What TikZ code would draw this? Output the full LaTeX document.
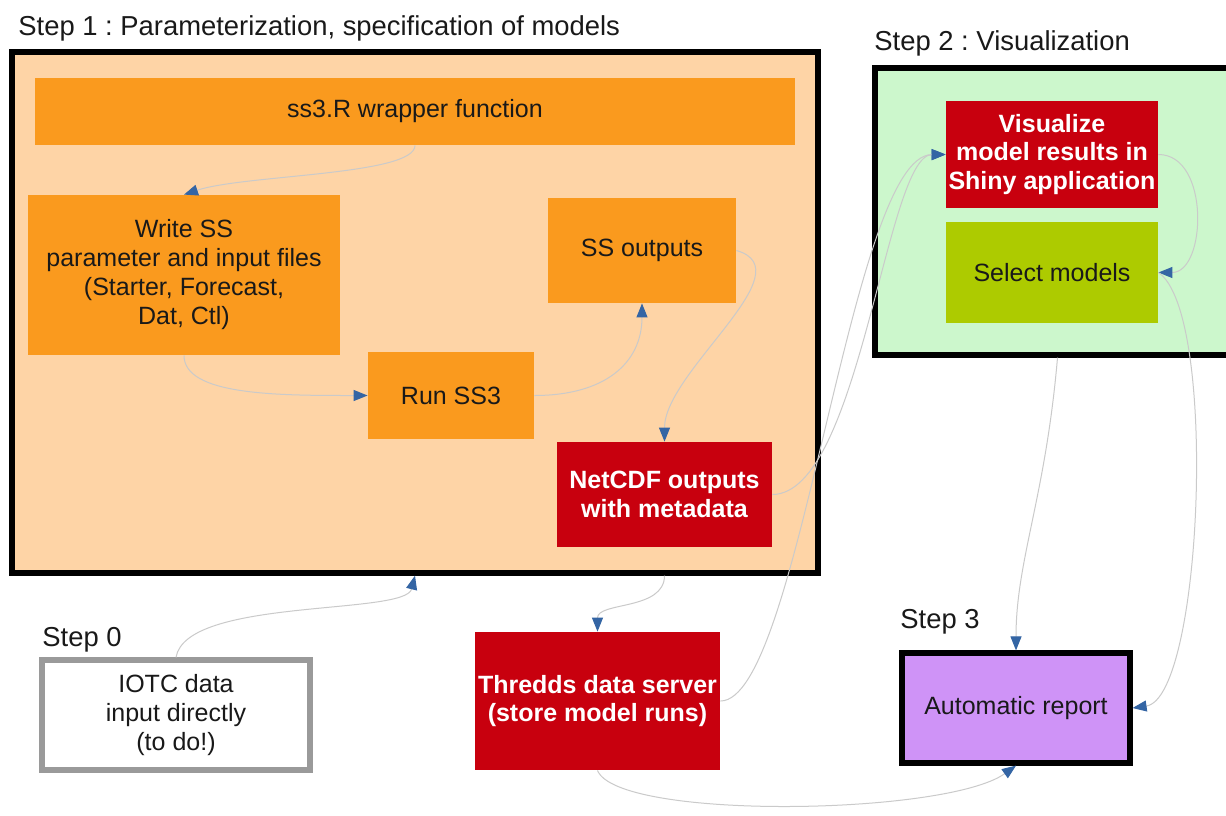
\documentclass[tikz,border=0pt]{standalone}
\usepackage{fontspec}
\setmainfont{Liberation Sans}
\frenchspacing
\usetikzlibrary{arrows.meta,calc}
\definecolor{peach}{HTML}{FED4A6}
\definecolor{orangebox}{HTML}{FA9A1E}
\definecolor{redbox}{HTML}{C8000E}
\definecolor{mint}{HTML}{CCF7CC}
\definecolor{limebox}{HTML}{ADCB00}
\definecolor{lilac}{HTML}{CF93F7}
\definecolor{linkgray}{HTML}{CACACA}
\definecolor{tipblue}{HTML}{3465A4}
\definecolor{inkgray}{HTML}{9A9A9A}
\begin{document}
\begin{tikzpicture}[x=0.5pt,y=-0.5pt,
  boxtext/.style={font=\fontsize{12.5}{14.5}\selectfont, text=black!90, align=center, inner sep=0pt},
  stepframe/.style={draw=black, line width=2.6pt},
  orangenode/.style={boxtext, fill=orangebox},
  rednode/.style={boxtext, fill=redbox, text=white, font=\fontsize{12.5}{14.2}\selectfont\bfseries},
  steplabel/.style={font=\fontsize{13.7}{16}\selectfont, anchor=west, inner sep=0pt, text=black!90},
  conn/.style={draw=linkgray, line width=0.5pt, -{Triangle[length=7pt,width=5.5pt,color=tipblue,fill=tipblue]}}
]
\useasboundingbox (0,0) rectangle (1226,815);
\fill[white] (0,0) rectangle (1226,815);

% Step 1 frame and its contents
\node[stepframe, fill=peach, minimum width=403pt, minimum height=260.5pt] (frame1) at (415,312.5) {};
\node[steplabel] (lab1) at (18,28) {Step 1 : Parameterization, specification of models};
\node[orangenode, minimum width=380pt, minimum height=33.5pt] (wrap) at (415,111.5) {ss3.R wrapper function};
\node[orangenode, minimum width=156pt, minimum height=80pt] (write) at (184,275)
  {Write SS\\parameter and input files\\(Starter, Forecast,\\Dat, Ctl)};
\node[orangenode, minimum width=94pt, minimum height=52.5pt] (ssout) at (642,250.5) {SS outputs};
\node[orangenode, minimum width=83pt, minimum height=43.5pt] (run) at (451,395.5) {Run SS3};
\node[rednode, minimum width=107.5pt, minimum height=52.5pt] (netcdf) at (664.5,494.5) {NetCDF outputs\\with metadata};

% Step 2 frame
\node[stepframe, fill=mint, minimum width=182.5pt, minimum height=143.5pt] (frame2) at (1057.5,211.5) {};
\node[steplabel] (lab2) at (874,43) {Step 2 : Visualization};
\node[rednode, minimum width=106pt, minimum height=53.5pt] (vis) at (1052,154.5) {Visualize\\model results in\\Shiny application};
\node[boxtext, fill=limebox, minimum width=106pt, minimum height=50.5pt] (sel) at (1052,272.5) {Select models};

% Step 0
\node[steplabel] (lab0) at (42,640) {Step 0};
\node[boxtext, draw=inkgray, line width=2.6pt, fill=white, minimum width=134pt, minimum height=55pt] (iotc) at (176,715)
  {IOTC data\\input directly\\(to do!)};

% Data server
\node[rednode, minimum width=122.5pt, minimum height=69pt] (thredds) at (597.5,701) {Thredds data server\\(store model runs)};

% Step 3
\node[steplabel] (lab3) at (900,622) {Step 3};
\node[boxtext, draw=black, line width=2.6pt, fill=lilac, minimum width=114pt, minimum height=55pt] (report) at (1016,708) {Automatic report};

% connectors
\coordinate (f1out) at (frame1.south -| netcdf.south);
\draw[conn] (wrap.south) .. controls +(0,30) and +(60,-20) .. (write.north);
\draw[conn] (write.south) .. controls +(0,40) and +(-90,0) .. (run.west);
\draw[conn] (run.east) .. controls +(70,0) and +(0,60) .. (ssout.south);
\draw[conn] (ssout.east) .. controls +(70,20) and +(0,-70) .. (netcdf.north);
\draw[conn] (netcdf.east) .. controls (860,494) and (886,155) .. (vis.west);
\draw[conn] (thredds.east) .. controls (800,701) and (850,155) .. (vis.west);
\draw[conn] (vis.east) .. controls +(52,0) and +(48,0) .. (sel.east);
\draw[conn] (sel.east) .. controls +(60,40) and +(70,-10) .. (report.east);
\draw[conn] (frame2.south) .. controls +(-12,140) and +(0,-90) .. (report.north);
\draw[conn] (thredds.south) .. controls +(20,50) and +(-70,50) .. (report.south);
\draw[conn] (iotc.north) .. controls +(10,-60) and +(-10,40) .. (frame1.south);
\draw[conn] (f1out) .. controls +(0,35) and +(0,-30) .. (thredds.north);
\end{tikzpicture}
\end{document}
